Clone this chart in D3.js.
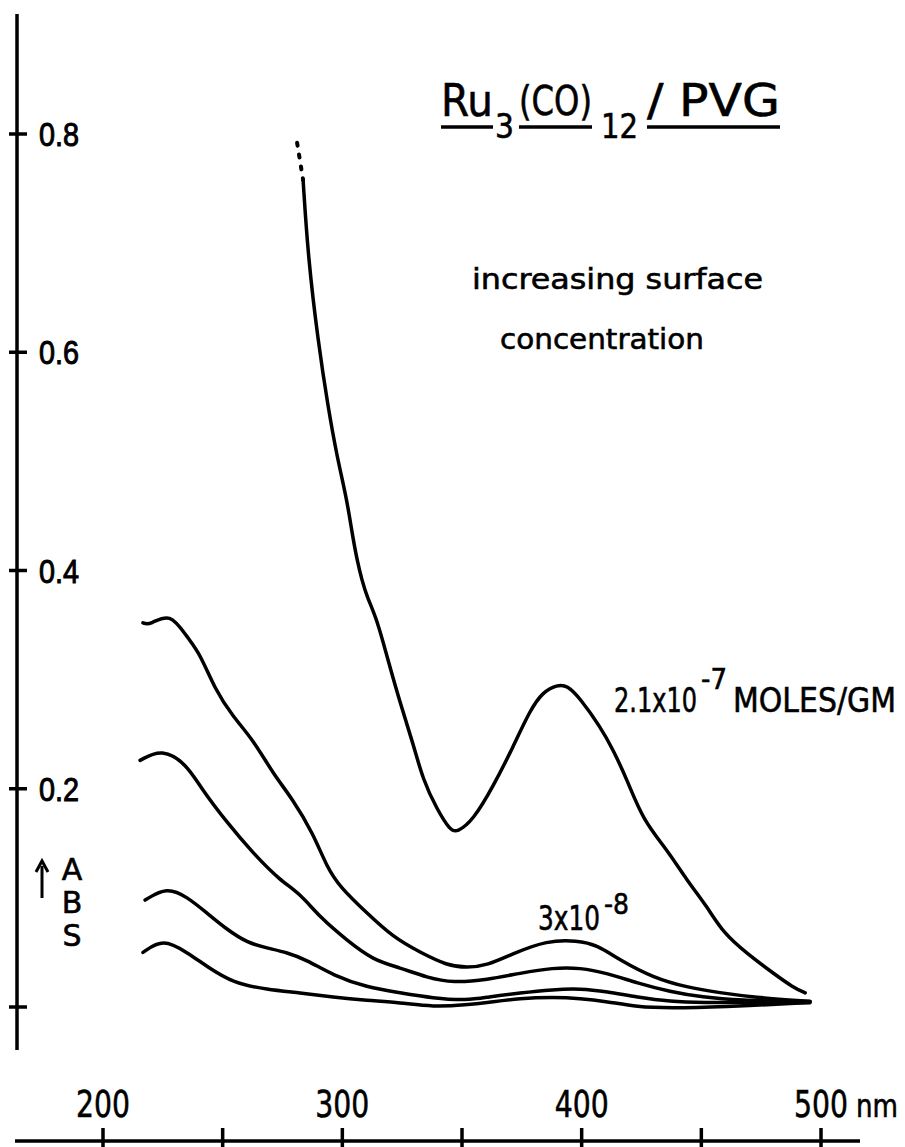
<!DOCTYPE html>
<html>
<head>
<meta charset="utf-8">
<script src="https://cdn.jsdelivr.net/npm/d3@7"></script>
<style>
  html, body { margin: 0; padding: 0; background: #fff; }
  svg { display: block; }
  .lbl { font-family: "DejaVu Sans", sans-serif; fill: #000; stroke: #000; stroke-width: 0.6; }
  .tick-lbl { font-family: "Liberation Sans", Arial, sans-serif; fill: #000; stroke: #000; stroke-width: 1; }
</style>
</head>
<body>
<script>
// absorbance axis
const yTicks = [0, 0.2, 0.4, 0.6, 0.8];
const yTickLabels = ["", "0.2", "0.4", "0.6", "0.8"];
// wavelength axis (nm)
const xTicks = [200, 250, 300, 350, 400, 450, 500];
const xTickLabels = ["200", "", "300", "", "400", "", "500"];

// 2.1x10^-7 moles/gm (dotted part runs off the top)
const nm1dot = [281.1, 283.6];
const abs1dot = [0.792, 0.758];
const nm1 = [283.6, 285.7, 289.8, 294.0, 297.8, 301.9, 304.1, 306.1, 308.2, 310.3, 314.5, 318.7, 324.1, 329.5, 333.7, 339.6, 345.0, 347.9, 354.6, 363.0, 371.3, 378.4, 383.9, 389.7, 393.9, 399.3, 407.7, 413.1, 419.0, 425.7, 435.7, 444.0, 452.4, 459.1, 469.1, 480.0, 488.3, 493.4];
const abs1 = [0.758, 0.687, 0.611, 0.550, 0.504, 0.465, 0.434, 0.410, 0.391, 0.376, 0.355, 0.321, 0.279, 0.242, 0.208, 0.181, 0.162, 0.160, 0.171, 0.202, 0.238, 0.272, 0.289, 0.295, 0.295, 0.283, 0.257, 0.236, 0.208, 0.171, 0.144, 0.116, 0.092, 0.068, 0.049, 0.031, 0.018, 0.013];

const nm2 = [216.7, 219.6, 228.0, 235.1, 240.5, 246.8, 254.3, 262.7, 271.0, 279.4, 287.8, 293.6, 299.0, 310.3, 321.2, 332.5, 343.8, 352.1, 360.5, 371.3, 385.5, 398.1, 406.4, 416.0, 429.8, 444.0, 457.8, 471.6, 495.4];
const abs2 = [0.352, 0.350, 0.362, 0.339, 0.324, 0.291, 0.266, 0.245, 0.214, 0.190, 0.159, 0.128, 0.110, 0.086, 0.064, 0.050, 0.038, 0.036, 0.038, 0.049, 0.061, 0.061, 0.057, 0.043, 0.027, 0.018, 0.013, 0.009, 0.005];

const nm3 = [215.5, 224.7, 235.1, 240.5, 251.8, 262.7, 274.0, 282.3, 290.7, 302.0, 312.8, 324.1, 335.4, 346.3, 360.5, 374.3, 388.1, 399.3, 410.6, 423.2, 436.9, 450.7, 464.9, 495.4];
const abs3 = [0.226, 0.237, 0.222, 0.202, 0.169, 0.141, 0.116, 0.104, 0.082, 0.061, 0.043, 0.036, 0.027, 0.022, 0.025, 0.031, 0.036, 0.036, 0.031, 0.022, 0.014, 0.009, 0.006, 0.005];

const nm4 = [217.6, 226.7, 235.1, 243.5, 251.8, 260.2, 268.5, 276.9, 285.3, 296.1, 310.3, 324.1, 337.9, 352.1, 360.5, 374.3, 388.1, 399.3, 410.6, 423.2, 436.9, 450.7, 471.6, 495.4];
const abs4 = [0.098, 0.110, 0.101, 0.086, 0.071, 0.059, 0.054, 0.050, 0.043, 0.029, 0.018, 0.013, 0.008, 0.006, 0.009, 0.013, 0.016, 0.017, 0.014, 0.009, 0.005, 0.004, 0.004, 0.005];

// 3x10^-8 is the lowest
const nm5 = [216.7, 225.1, 235.1, 243.5, 254.3, 268.5, 282.3, 296.1, 310.3, 324.1, 337.9, 352.1, 360.5, 374.3, 388.1, 399.3, 410.6, 423.2, 436.9, 457.8, 495.4];
const abs5 = [0.050, 0.063, 0.050, 0.037, 0.022, 0.016, 0.013, 0.009, 0.006, 0.004, 0.000, 0.002, 0.004, 0.008, 0.009, 0.008, 0.005, 0.000, -0.001, 0.000, 0.004];

const width = 905, height = 1147;

const x = d3.scaleLinear().domain([200, 500]).range([103, 821]);
const y = d3.scaleLinear().domain([0, 0.8]).range([1007, 134]);

const svg = d3.select("body").append("svg")
  .attr("width", width)
  .attr("height", height);

// y axis
const yAx = svg.append("g").attr("stroke", "#000").attr("stroke-width", 3.5);
yAx.append("line").attr("x1", 17).attr("x2", 17).attr("y1", 14).attr("y2", 1050);
yAx.selectAll(".yt").data(yTicks).enter().append("line")
  .attr("x1", 9).attr("x2", 27)
  .attr("y1", d => y(d)).attr("y2", d => y(d));

svg.selectAll(".ylab").data(yTicks).enter().append("text")
  .attr("class", "tick-lbl")
  .attr("x", 39)
  .attr("y", d => y(d) + 12)
  .attr("font-size", 34)
  .attr("textLength", (d, i) => yTickLabels[i] ? 40 : null)
  .attr("lengthAdjust", "spacingAndGlyphs")
  .text((d, i) => yTickLabels[i]);

// ABS with arrow
svg.append("line")
  .attr("x1", 42).attr("x2", 42).attr("y1", 898).attr("y2", 866)
  .attr("stroke", "#000").attr("stroke-width", 3);
svg.append("path")
  .attr("d", "M36,872 L42,861 L48,872")
  .attr("fill", "none").attr("stroke", "#000").attr("stroke-width", 3);
svg.selectAll(".abs").data(["A", "B", "S"]).enter().append("text")
  .attr("class", "lbl")
  .attr("x", 72).attr("y", (d, i) => 880 + i * 33)
  .attr("font-size", 30)
  .attr("text-anchor", "middle")
  .text(d => d);

// x axis (separate, below the plot)
const xAx = svg.append("g").attr("stroke", "#000").attr("stroke-width", 3.5);
xAx.append("line").attr("x1", 15).attr("x2", 860).attr("y1", 1141).attr("y2", 1141);
xAx.selectAll(".xt").data(xTicks).enter().append("line")
  .attr("x1", d => x(d)).attr("x2", d => x(d))
  .attr("y1", 1128).attr("y2", 1150);

svg.selectAll(".xlab").data(xTicks).enter().append("text")
  .attr("class", "lbl")
  .attr("x", d => x(d))
  .attr("y", 1117)
  .attr("font-size", 37)
  .attr("text-anchor", "middle")
  .attr("textLength", (d, i) => xTickLabels[i] ? 54 : null)
  .attr("lengthAdjust", "spacingAndGlyphs")
  .text((d, i) => xTickLabels[i]);
svg.append("text").attr("class", "lbl")
  .attr("x", 856).attr("y", 1117).attr("font-size", 32)
  .attr("textLength", 42).attr("lengthAdjust", "spacingAndGlyphs")
  .text("nm");

// curves
const line = d3.line()
  .x(d => x(d[0]))
  .y(d => y(d[1]))
  .curve(d3.curveBasis);

const series = [[nm1, abs1], [nm2, abs2], [nm3, abs3], [nm4, abs4], [nm5, abs5]];
svg.append("g").selectAll("path").data(series).enter().append("path")
  .attr("d", s => line(d3.zip(s[0], s[1])))
  .attr("fill", "none")
  .attr("stroke", "#000")
  .attr("stroke-width", 3.5)
  .attr("stroke-linejoin", "round")
  .attr("stroke-linecap", "round");

svg.append("path")
  .attr("d", d3.line().x(d => x(d[0])).y(d => y(d[1]))(d3.zip(nm1dot, abs1dot)))
  .attr("fill", "none")
  .attr("stroke", "#000")
  .attr("stroke-width", 4)
  .attr("stroke-linecap", "round")
  .attr("stroke-dasharray", "3,9");

// title Ru3(CO)12 / PVG
const title = svg.append("g");
const tparts = [
  { t: "Ru", x: 441, y: 116, fs: 45, w: 52, u: true },
  { t: "3", x: 495, y: 138, fs: 34, w: 19, u: false },
  { t: "(CO)", x: 519, y: 115, fs: 40, w: 73, u: true },
  { t: "12", x: 601, y: 138, fs: 34, w: 37, u: false },
  { t: "/ PVG", x: 647, y: 116, fs: 45, w: 133, u: true }
];
tparts.forEach(p => {
  title.append("text").attr("class", "lbl")
    .attr("x", p.x).attr("y", p.y).attr("font-size", p.fs)
    .attr("textLength", p.w).attr("lengthAdjust", "spacingAndGlyphs")
    .text(p.t);
  if (p.u) {
    title.append("line")
      .attr("x1", p.x).attr("x2", p.x + p.w)
      .attr("y1", 127).attr("y2", 127)
      .attr("stroke", "#000").attr("stroke-width", 3.5);
  }
});

svg.append("text").attr("class", "lbl")
  .attr("x", 472).attr("y", 289).attr("font-size", 29)
  .attr("textLength", 291).attr("lengthAdjust", "spacingAndGlyphs")
  .text("increasing surface");
svg.append("text").attr("class", "lbl")
  .attr("x", 500).attr("y", 349).attr("font-size", 29)
  .attr("textLength", 204).attr("lengthAdjust", "spacingAndGlyphs")
  .text("concentration");

// curve labels
const labels = [
  { t: "2.1x10", x: 614, y: 712, fs: 33, w: 83 },
  { t: "-7", x: 701, y: 689, fs: 28, w: 26 },
  { t: "MOLES/GM", x: 733, y: 712, fs: 33, w: 163 },
  { t: "3x10", x: 538, y: 930, fs: 33, w: 62 },
  { t: "-8", x: 604, y: 914, fs: 28, w: 25 }
];
svg.selectAll(".clab").data(labels).enter().append("text")
  .attr("class", "lbl")
  .attr("x", d => d.x).attr("y", d => d.y)
  .attr("font-size", d => d.fs)
  .attr("textLength", d => d.w)
  .attr("lengthAdjust", "spacingAndGlyphs")
  .text(d => d.t);
</script>
</body>
</html>
